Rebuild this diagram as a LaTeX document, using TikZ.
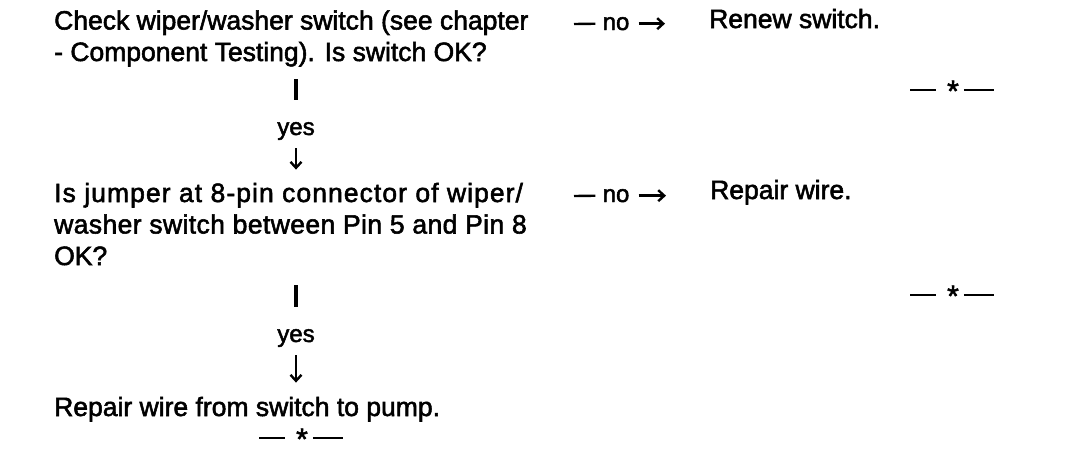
\documentclass[tikz,border=0pt]{standalone}
\usepackage{fontspec}
\setmainfont{Liberation Sans}[FakeBold=2]
\usetikzlibrary{arrows.meta}
\tikzset{
  txt/.style={font=\fontsize{26.5}{31.5}\selectfont, inner sep=0pt, align=left, anchor=base west},
  lbl/.style={font=\fontsize{24}{28}\selectfont, inner sep=0pt, anchor=base},
  endmark/.style={font=\fontsize{26}{30}\selectfont, inner sep=0pt},
  conn/.style={line width=3.2pt},
  dashln/.style={line width=2.4pt},
  arr/.style={line width=2.4pt, -{Straight Barb[length=6pt,width=11pt]}},
}
\newcommand{\stopmark}{\rule[6pt]{26pt}{2.4pt}\hspace{11pt}\raisebox{-4pt}{\fontsize{30}{30}\selectfont *}\hspace{5pt}\rule[6pt]{30pt}{2.4pt}}
\newcommand{\wide}[2]{{\addfontfeatures{LetterSpace=#1}#2}}
\begin{document}
\begin{tikzpicture}[x=1pt,y=-1pt]
\useasboundingbox (0,0) rectangle (1088,464);
% question 1 (base anchor = baseline of the last line)
\node[txt] (q1) at (54,61) {Check wiper/washer switch (see chapter\\- Component Testing). Is switch OK?};
\node[lbl] (no1) at (616,30) {no};
\node[txt] (a1) at (709,28) {Renew switch.};
\coordinate (d1) at (574,24);
\draw[dashln, shorten >=7pt] (d1) -- (no1.west);
\draw[arr, shorten <=9pt, shorten >=44pt] (no1.east) -- (no1.east -| a1.west);
\node[endmark] (e1) at (952,91) {\stopmark};
% yes 1
\node[lbl] (yes1) at (296,135) {yes};
\coordinate (b1) at (296,79);
\draw[conn] (b1) -- ([yshift=22pt]yes1.north);
% question 2
\node[txt] (q2) at (54,265) {\wide{4}{Is jumper at 8-pin connector of wiper/}\\\wide{1.5}{washer switch between Pin 5 and Pin 8}\\OK?};
\draw[arr, shorten <=8pt, shorten >=13pt] (yes1.south) -- (yes1.south |- q2.north);
\node[lbl] (no2) at (616,202) {no};
\node[txt] (a2) at (710,199) {Repair wire.};
\coordinate (d2) at (574,196);
\draw[dashln, shorten >=7pt] (d2) -- (no2.west);
\draw[arr, shorten <=9pt, shorten >=44pt] (no2.east) -- (no2.east -| a2.west);
\node[endmark] (e2) at (952,296) {\stopmark};
% yes 2
\node[lbl] (yes2) at (296,342) {yes};
\coordinate (b2) at (296,285);
\draw[conn] (b2) -- ([yshift=22pt]yes2.north);
% final
\node[txt] (q3) at (54,416) {Repair wire from switch to pump.};
\draw[arr, shorten <=8pt, shorten >=14pt] (yes2.south) -- (yes2.south |- q3.north);
\node[endmark] (e3) at (301,439) {\stopmark};
\end{tikzpicture}
\end{document}
